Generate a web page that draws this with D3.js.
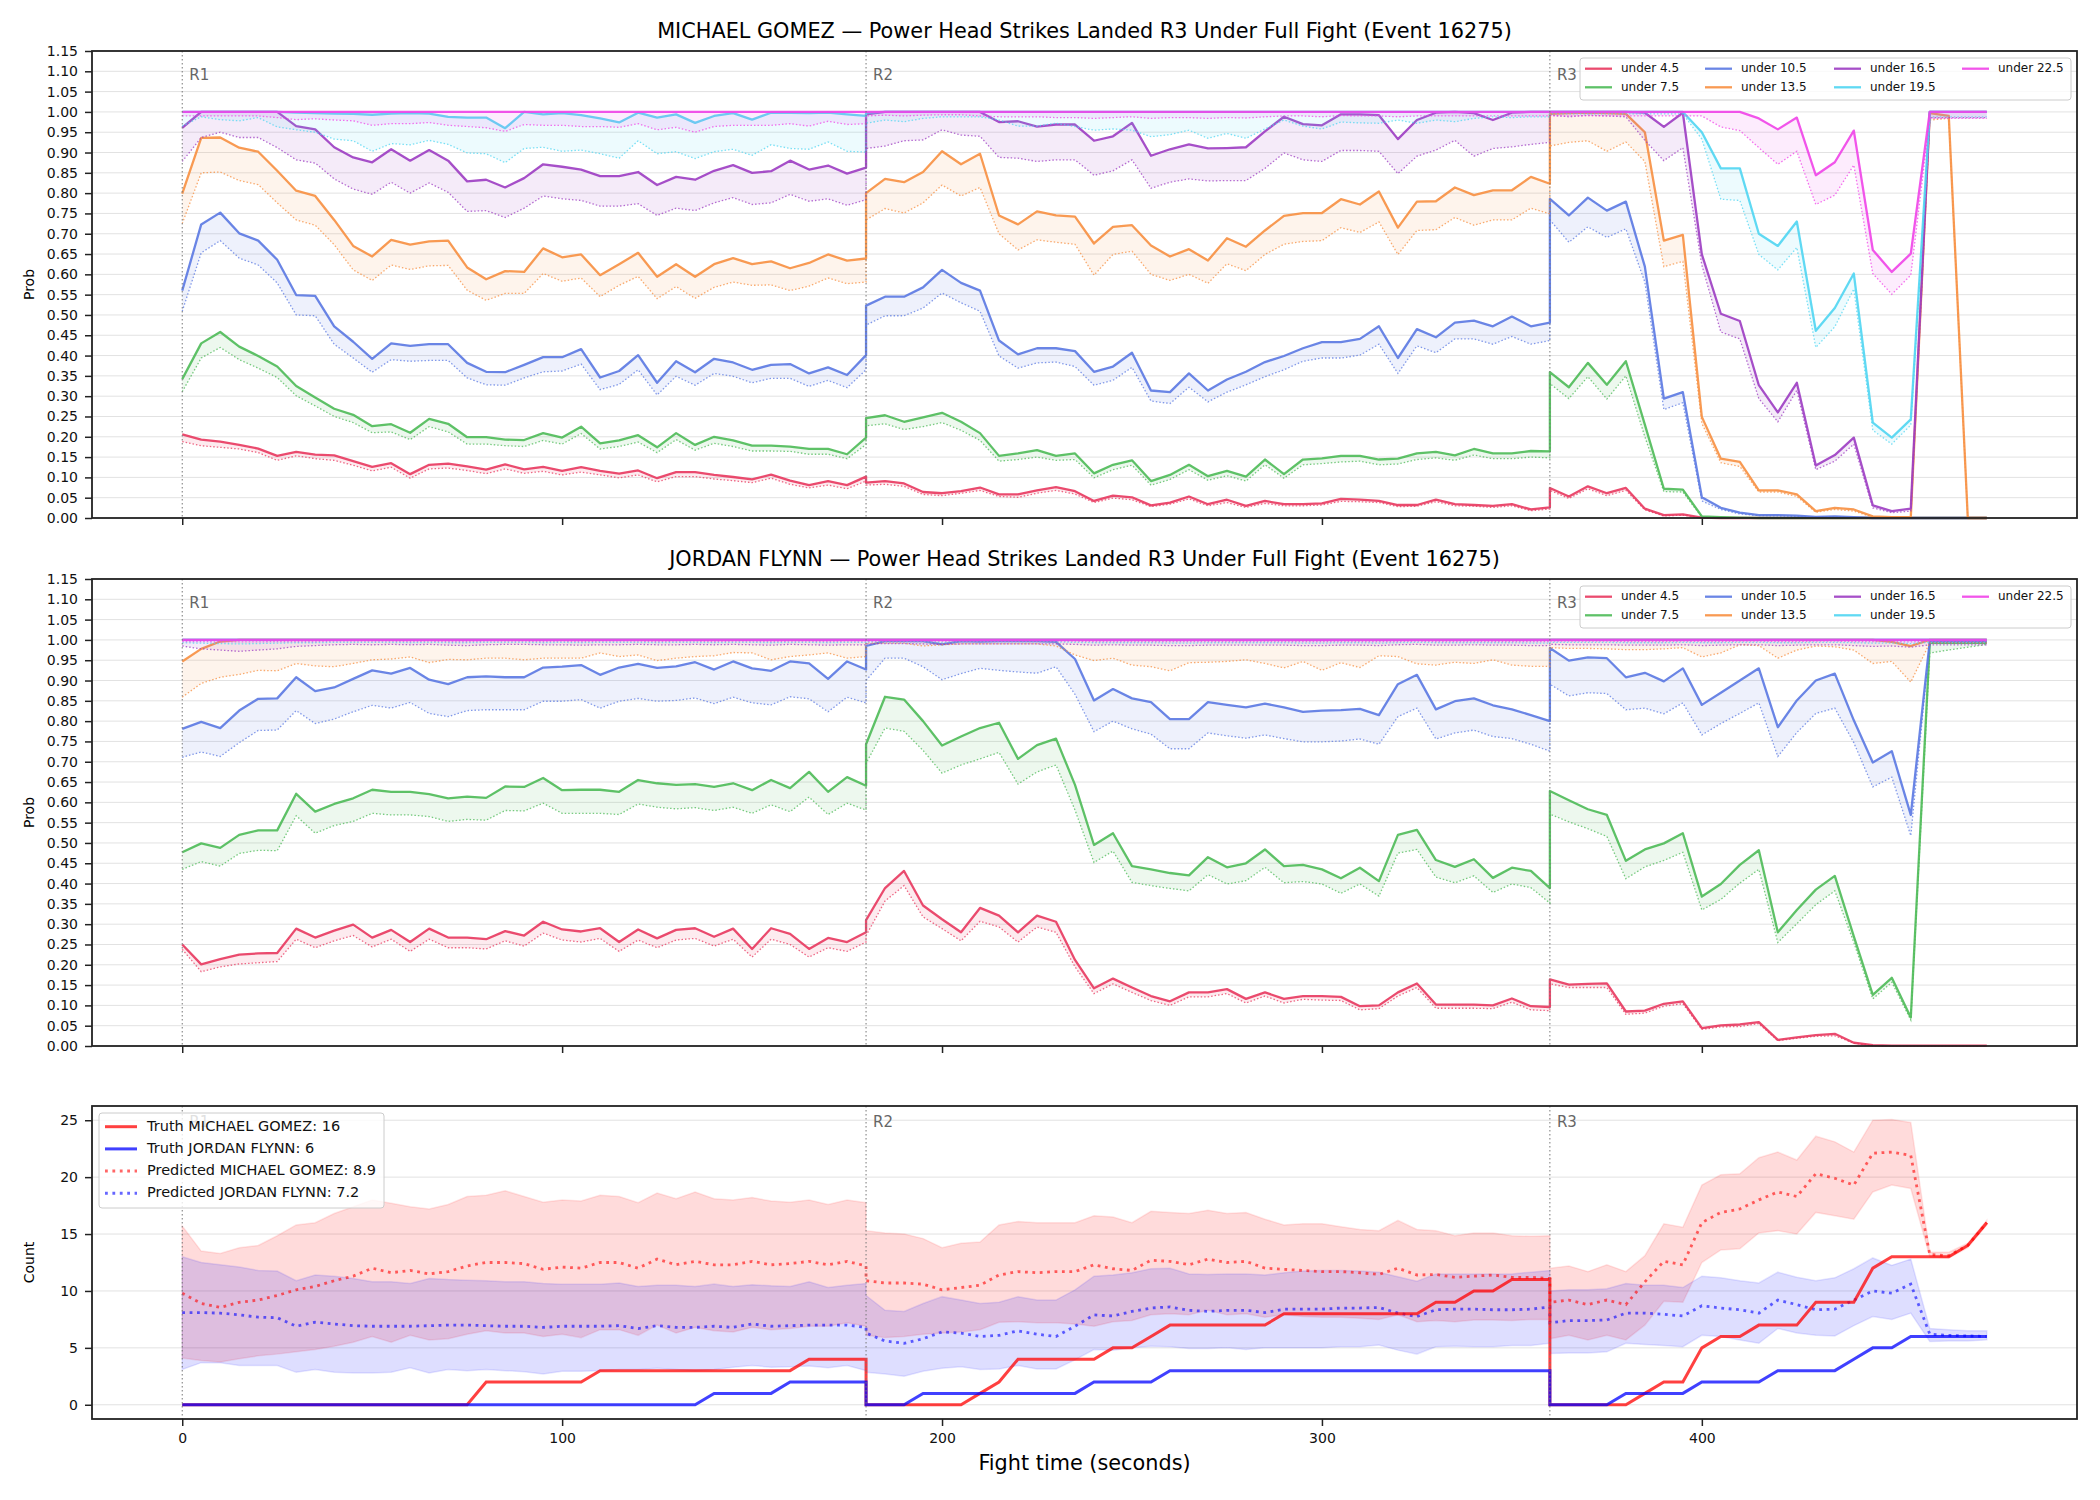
<!DOCTYPE html>
<html>
<head>
<meta charset="utf-8">
<script src="https://cdn.jsdelivr.net/npm/d3@7"></script>
<style>
  body { margin: 0; background: #fff; }
  svg { font-family: "DejaVu Sans", sans-serif; }
</style>
</head>
<body>
<svg id="chart" width="2100" height="1500"></svg>
<script>
// sampling grid: every 5 s, rounds restart at 180 and 360 (duplicated boundary)
const times = [].concat(d3.range(0, 181, 5), d3.range(180, 361, 5), d3.range(360, 476, 5));
const roundStarts = [0, 180, 360];
const roundNames = ["R1", "R2", "R3"];
const thresholds = ["under 4.5", "under 7.5", "under 10.5", "under 13.5", "under 16.5", "under 19.5", "under 22.5"];
const probTicks = d3.range(0, 24).map(i => i * 0.05);
const countTicks = [0, 5, 10, 15, 20, 25];
const timeTicks = [0, 100, 200, 300, 400];

// ---------- MICHAEL GOMEZ (solid = live, pred = dotted) ----------
const gomez45 = [0.206,0.193,0.188,0.180,0.171,0.153,0.163,0.156,0.154,0.140,0.126,0.135,0.108,0.131,0.134,0.127,0.119,0.132,0.120,0.126,0.116,0.125,0.116,0.109,0.117,0.098,0.113,0.113,0.106,0.101,0.095,0.107,0.092,0.081,0.091,0.081,0.102,
  0.087,0.091,0.085,0.064,0.061,0.066,0.075,0.058,0.058,0.068,0.076,0.066,0.042,0.055,0.051,0.031,0.038,0.053,0.034,0.045,0.030,0.042,0.034,0.034,0.036,0.047,0.045,0.042,0.032,0.032,0.045,0.034,0.032,0.030,0.034,0.021,0.026,
  0.074,0.053,0.078,0.061,0.074,0.023,0.007,0.009,0.001,0,0,0,0,0,0,0,0,0,0,0,0,0,0,0];
const gomez45Pred = [0.188,0.178,0.174,0.170,0.161,0.142,0.153,0.146,0.142,0.130,0.116,0.125,0.098,0.121,0.123,0.117,0.109,0.121,0.110,0.115,0.106,0.113,0.106,0.099,0.106,0.089,0.102,0.102,0.096,0.092,0.087,0.098,0.083,0.074,0.081,0.072,0.091,
  0.081,0.083,0.078,0.058,0.055,0.061,0.068,0.053,0.051,0.061,0.068,0.059,0.038,0.049,0.045,0.028,0.034,0.047,0.030,0.038,0.026,0.036,0.030,0.030,0.032,0.041,0.040,0.038,0.028,0.029,0.040,0.030,0.029,0.026,0.030,0.018,0.022,
  0.068,0.048,0.072,0.055,0.068,0.020,0.005,0.007,0,0,0,0,0,0,0,0,0,0,0,0,0,0,0,0];
const gomez75 = [0.342,0.430,0.458,0.422,0.399,0.373,0.325,0.297,0.269,0.254,0.226,0.231,0.210,0.244,0.232,0.199,0.199,0.193,0.192,0.209,0.198,0.225,0.184,0.191,0.204,0.174,0.209,0.180,0.200,0.191,0.178,0.178,0.176,0.170,0.170,0.157,0.198,
  0.246,0.253,0.237,0.248,0.259,0.237,0.209,0.153,0.159,0.167,0.153,0.159,0.110,0.131,0.142,0.091,0.106,0.131,0.103,0.116,0.102,0.144,0.108,0.144,0.147,0.153,0.153,0.144,0.146,0.159,0.163,0.154,0.170,0.159,0.159,0.165,0.164,
  0.359,0.322,0.382,0.328,0.386,0.230,0.072,0.070,0.004,0.002,0.001,0,0,0,0,0,0,0,0,0,0,0,0,0];
const gomez75Pred = [0.311,0.394,0.420,0.390,0.369,0.346,0.301,0.276,0.250,0.235,0.210,0.212,0.193,0.225,0.212,0.182,0.182,0.178,0.176,0.191,0.182,0.208,0.170,0.176,0.187,0.161,0.193,0.167,0.184,0.176,0.165,0.165,0.164,0.157,0.157,0.146,0.181,
  0.227,0.232,0.218,0.225,0.235,0.216,0.191,0.140,0.144,0.150,0.142,0.144,0.099,0.119,0.130,0.081,0.095,0.119,0.093,0.104,0.091,0.131,0.098,0.131,0.134,0.138,0.140,0.131,0.133,0.144,0.148,0.142,0.155,0.146,0.146,0.150,0.148,
  0.331,0.294,0.348,0.293,0.350,0.200,0.065,0.064,0.002,0.001,0,0,0,0,0,0,0,0,0,0,0,0,0,0];
const gomez105 = [0.560,0.723,0.752,0.701,0.683,0.636,0.549,0.547,0.472,0.434,0.392,0.430,0.424,0.428,0.428,0.382,0.360,0.359,0.377,0.396,0.396,0.416,0.346,0.362,0.401,0.333,0.386,0.359,0.392,0.383,0.365,0.377,0.379,0.356,0.371,0.352,0.401,
  0.523,0.545,0.545,0.568,0.611,0.579,0.560,0.437,0.403,0.418,0.418,0.411,0.360,0.373,0.407,0.314,0.310,0.356,0.314,0.341,0.360,0.384,0.399,0.418,0.433,0.433,0.441,0.472,0.394,0.465,0.445,0.481,0.486,0.472,0.496,0.472,0.481,
  0.786,0.745,0.789,0.757,0.779,0.619,0.294,0.310,0.051,0.025,0.013,0.007,0.007,0.006,0.003,0.004,0.002,0,0,0,0,0,0,0];
const gomez105Pred = [0.509,0.653,0.683,0.640,0.623,0.579,0.500,0.498,0.428,0.394,0.359,0.390,0.386,0.388,0.388,0.345,0.328,0.327,0.345,0.360,0.362,0.379,0.316,0.329,0.365,0.303,0.349,0.327,0.356,0.349,0.333,0.344,0.344,0.324,0.339,0.321,0.365,
  0.475,0.498,0.498,0.517,0.554,0.530,0.509,0.399,0.369,0.382,0.384,0.373,0.327,0.339,0.371,0.288,0.282,0.322,0.286,0.310,0.328,0.348,0.365,0.386,0.394,0.394,0.401,0.428,0.356,0.424,0.407,0.441,0.441,0.428,0.447,0.428,0.437,
  0.734,0.679,0.717,0.691,0.712,0.581,0.267,0.284,0.042,0.021,0.010,0.006,0.005,0.004,0.002,0.003,0.001,0,0,0,0,0,0,0];
const gomez135 = [0.799,0.936,0.937,0.912,0.902,0.855,0.806,0.793,0.734,0.670,0.644,0.685,0.673,0.681,0.683,0.617,0.588,0.608,0.606,0.664,0.642,0.649,0.598,0.625,0.653,0.594,0.625,0.594,0.625,0.640,0.625,0.632,0.615,0.628,0.649,0.634,0.639,
  0.800,0.835,0.827,0.852,0.903,0.871,0.897,0.745,0.723,0.755,0.745,0.742,0.676,0.717,0.721,0.671,0.644,0.662,0.634,0.689,0.668,0.708,0.744,0.751,0.751,0.785,0.772,0.804,0.715,0.779,0.780,0.814,0.795,0.807,0.807,0.840,0.823,
  0.995,0.997,0.998,0.997,0.995,0.950,0.683,0.697,0.249,0.146,0.138,0.068,0.068,0.058,0.017,0.025,0.021,0.004,0.002,0.002,0.997,0.990,0,0];
const gomez135Pred = [0.725,0.850,0.852,0.831,0.821,0.776,0.734,0.721,0.673,0.611,0.585,0.623,0.612,0.621,0.622,0.561,0.536,0.553,0.553,0.602,0.583,0.591,0.545,0.573,0.595,0.540,0.570,0.541,0.568,0.581,0.573,0.574,0.560,0.571,0.591,0.577,0.581,
  0.734,0.762,0.751,0.776,0.820,0.793,0.814,0.700,0.660,0.685,0.679,0.674,0.598,0.649,0.657,0.600,0.585,0.600,0.578,0.626,0.609,0.649,0.674,0.681,0.683,0.715,0.703,0.729,0.649,0.708,0.710,0.740,0.721,0.734,0.734,0.763,0.749,
  0.916,0.925,0.929,0.903,0.926,0.878,0.619,0.632,0.233,0.136,0.127,0.064,0.064,0.053,0.014,0.021,0.017,0.002,0.001,0.001,0.980,0.984,0,0];
const gomez165 = [0.961,1,1,1,1,1,0.965,0.957,0.913,0.888,0.876,0.908,0.880,0.906,0.880,0.829,0.833,0.814,0.837,0.871,0.865,0.858,0.842,0.842,0.852,0.820,0.840,0.833,0.855,0.869,0.850,0.854,0.880,0.858,0.868,0.848,0.863,
  0.994,1,1,1,1,1,1,0.975,0.977,0.964,0.969,0.969,0.929,0.940,0.973,0.892,0.908,0.920,0.910,0.911,0.913,0.952,0.988,0.970,0.967,0.994,0.994,0.992,0.933,0.980,0.998,1,0.997,0.980,0.998,1,1,
  1,1,1,1,1,0.998,0.963,0.998,0.649,0.503,0.485,0.327,0.260,0.333,0.129,0.155,0.198,0.031,0.017,0.023,1,1,1,1];
const gomez165Pred = [0.878,0.937,0.950,0.937,0.937,0.912,0.882,0.874,0.835,0.810,0.797,0.827,0.800,0.825,0.802,0.755,0.757,0.740,0.763,0.793,0.786,0.782,0.768,0.768,0.774,0.745,0.763,0.757,0.776,0.789,0.772,0.776,0.797,0.780,0.786,0.770,0.784,
  0.910,0.916,0.929,0.931,0.956,0.943,0.940,0.888,0.886,0.878,0.882,0.882,0.844,0.855,0.882,0.812,0.827,0.835,0.830,0.831,0.831,0.861,0.899,0.882,0.878,0.905,0.905,0.903,0.848,0.891,0.906,0.930,0.891,0.910,0.914,0.920,0.925,
  0.992,0.988,0.992,0.990,0.988,0.930,0.880,0.912,0.623,0.458,0.441,0.294,0.237,0.314,0.119,0.140,0.182,0.025,0.013,0.017,0.986,0.986,0.986,0.986];
const gomez195 = [1,1,1,1,1,1,0.998,0.997,0.996,0.995,0.993,0.996,0.997,0.996,0.988,0.986,0.986,0.960,1,0.994,0.997,0.992,0.984,0.974,0.998,0.986,0.994,0.973,0.990,0.997,0.981,0.998,0.998,0.997,0.998,0.994,0.990,
  0.998,1,1,1,1,1,1,1,1,1,1,1,1,1,1,1,1,1,1,1,1,1,1,1,1,1,1,1,1,1,1,1,1,1,1,1,1,
  1,1,1,1,1,1,1,1,0.950,0.861,0.861,0.700,0.670,0.730,0.461,0.517,0.602,0.235,0.198,0.243,1,1,1,1];
const gomez195Pred = [0.965,0.988,0.981,0.978,0.986,0.963,0.956,0.950,0.933,0.929,0.903,0.922,0.919,0.930,0.920,0.899,0.897,0.875,0.910,0.913,0.903,0.906,0.897,0.886,0.929,0.897,0.902,0.885,0.902,0.908,0.893,0.919,0.910,0.908,0.926,0.903,0.901,
  0.972,0.980,0.976,0.984,0.988,0.988,0.988,0.980,0.965,0.965,0.972,0.964,0.955,0.958,0.955,0.939,0.944,0.955,0.935,0.947,0.935,0.958,0.980,0.965,0.958,0.975,0.973,0.972,0.980,0.972,0.980,0.976,0.984,0.988,0.986,0.988,0.988,
  0.995,0.995,0.995,0.995,0.995,0.995,0.995,0.995,0.933,0.785,0.782,0.649,0.611,0.666,0.420,0.471,0.564,0.216,0.182,0.229,0.988,0.988,0.988,0.988];
const gomez225 = [1,1,1,1,1,1,1,1,1,1,1,1,1,1,1,1,1,1,1,1,1,1,1,1,1,1,1,1,1,1,1,1,1,1,1,1,1,
  1,1,1,1,1,1,1,1,1,1,1,1,1,1,1,1,1,1,1,1,1,1,1,1,1,1,1,1,1,1,1,1,1,1,1,1,1,
  1,1,1,1,1,1,1,1,1,1,1,0.984,0.957,0.986,0.844,0.876,0.954,0.660,0.606,0.651,1,1,1,1];
const gomez225Pred = [0.990,0.990,0.990,0.990,0.990,0.986,0.981,0.983,0.980,0.978,0.967,0.971,0.971,0.974,0.967,0.964,0.961,0.952,0.969,0.967,0.967,0.964,0.964,0.962,0.971,0.956,0.962,0.950,0.964,0.967,0.967,0.967,0.971,0.965,0.977,0.969,0.971,
  0.990,0.992,0.990,0.992,0.993,0.993,0.990,0.988,0.988,0.988,0.986,0.986,0.984,0.986,0.988,0.984,0.986,0.986,0.984,0.986,0.985,0.988,0.990,0.990,0.988,0.991,0.990,0.990,0.988,0.990,0.990,0.990,0.990,0.990,0.990,0.990,0.990,
  0.990,0.990,0.990,0.990,0.990,0.990,0.990,0.990,0.990,0.963,0.954,0.912,0.871,0.903,0.772,0.795,0.869,0.602,0.551,0.598,0.984,0.984,0.984,0.984];

// ---------- JORDAN FLYNN ----------
const flynn45 = [0.250,0.201,0.214,0.225,0.228,0.229,0.289,0.267,0.284,0.299,0.267,0.286,0.256,0.289,0.267,0.267,0.263,0.283,0.272,0.306,0.287,0.282,0.290,0.256,0.287,0.265,0.286,0.290,0.269,0.289,0.239,0.290,0.276,0.239,0.266,0.256,0.280,
  0.310,0.389,0.431,0.346,0.312,0.280,0.340,0.321,0.280,0.321,0.306,0.212,0.142,0.166,0.144,0.123,0.110,0.132,0.132,0.140,0.116,0.132,0.116,0.123,0.123,0.121,0.098,0.100,0.132,0.154,0.102,0.102,0.102,0.100,0.117,0.098,0.096,
  0.164,0.151,0.153,0.154,0.085,0.087,0.104,0.110,0.044,0.051,0.053,0.059,0.015,0.021,0.027,0.030,0.008,0.002,0.001,0.001,0.001,0.001,0.001,0.001];
const flynn45Pred = [0.238,0.183,0.195,0.202,0.205,0.208,0.263,0.242,0.259,0.272,0.244,0.263,0.233,0.263,0.242,0.242,0.239,0.259,0.246,0.278,0.261,0.256,0.265,0.233,0.261,0.242,0.261,0.265,0.246,0.263,0.219,0.263,0.250,0.219,0.242,0.233,0.256,
  0.272,0.357,0.395,0.318,0.289,0.259,0.307,0.293,0.256,0.293,0.280,0.195,0.129,0.153,0.132,0.112,0.100,0.121,0.121,0.129,0.106,0.123,0.106,0.115,0.113,0.112,0.089,0.092,0.123,0.144,0.093,0.093,0.093,0.092,0.108,0.089,0.087,
  0.153,0.144,0.144,0.144,0.078,0.081,0.098,0.104,0.041,0.047,0.048,0.055,0.013,0.019,0.024,0.025,0.007,0.001,0,0,0,0,0,0];
const flynn75 = [0.477,0.499,0.488,0.520,0.531,0.531,0.621,0.577,0.596,0.610,0.631,0.626,0.626,0.620,0.610,0.614,0.611,0.639,0.638,0.660,0.630,0.631,0.631,0.626,0.655,0.647,0.643,0.645,0.638,0.647,0.630,0.655,0.635,0.675,0.626,0.662,0.641,
  0.743,0.860,0.853,0.800,0.740,0.762,0.783,0.796,0.707,0.741,0.757,0.643,0.495,0.524,0.443,0.435,0.426,0.420,0.465,0.440,0.450,0.484,0.443,0.446,0.435,0.413,0.439,0.406,0.520,0.532,0.458,0.441,0.460,0.414,0.439,0.431,0.389,
  0.628,0.605,0.583,0.569,0.456,0.484,0.499,0.524,0.368,0.399,0.446,0.482,0.280,0.335,0.385,0.419,0.270,0.126,0.168,0.070,0.993,0.993,0.993,0.993];
const flynn75Pred = [0.435,0.454,0.443,0.474,0.482,0.481,0.567,0.524,0.543,0.553,0.573,0.569,0.569,0.565,0.553,0.558,0.556,0.580,0.579,0.598,0.573,0.573,0.573,0.570,0.596,0.588,0.584,0.587,0.580,0.588,0.573,0.594,0.577,0.613,0.570,0.598,0.581,
  0.696,0.783,0.775,0.728,0.672,0.692,0.707,0.723,0.645,0.675,0.692,0.581,0.452,0.480,0.403,0.395,0.388,0.382,0.422,0.399,0.407,0.440,0.402,0.405,0.399,0.376,0.399,0.369,0.475,0.484,0.416,0.402,0.419,0.378,0.399,0.390,0.352,
  0.571,0.552,0.535,0.516,0.412,0.441,0.457,0.477,0.335,0.361,0.401,0.435,0.255,0.301,0.348,0.382,0.255,0.116,0.157,0.064,0.968,0.975,0.982,0.989];
const flynn105 = [0.781,0.798,0.783,0.826,0.855,0.856,0.908,0.874,0.883,0.904,0.925,0.917,0.931,0.902,0.891,0.908,0.910,0.908,0.908,0.932,0.934,0.938,0.914,0.932,0.941,0.931,0.935,0.945,0.927,0.947,0.930,0.924,0.947,0.942,0.904,0.947,0.927,
  0.985,0.997,0.997,0.997,0.989,0.997,0.996,0.997,0.997,0.997,0.995,0.953,0.851,0.879,0.856,0.847,0.805,0.805,0.847,0.840,0.834,0.843,0.834,0.823,0.826,0.827,0.830,0.815,0.891,0.914,0.829,0.849,0.856,0.839,0.829,0.815,0.800,
  0.980,0.949,0.957,0.955,0.908,0.919,0.898,0.930,0.840,0.870,0.900,0.930,0.785,0.851,0.900,0.917,0.802,0.698,0.726,0.569,0.997,0.997,0.997,0.997];
const flynn105Pred = [0.711,0.724,0.713,0.747,0.777,0.778,0.826,0.794,0.805,0.823,0.839,0.832,0.846,0.819,0.811,0.826,0.828,0.828,0.828,0.849,0.849,0.853,0.832,0.849,0.856,0.849,0.851,0.857,0.843,0.859,0.845,0.840,0.860,0.855,0.823,0.859,0.845,
  0.900,0.955,0.955,0.934,0.902,0.917,0.930,0.925,0.921,0.918,0.934,0.866,0.774,0.800,0.781,0.768,0.732,0.732,0.771,0.764,0.758,0.766,0.757,0.749,0.749,0.751,0.756,0.743,0.811,0.832,0.756,0.771,0.778,0.762,0.757,0.743,0.726,
  0.891,0.862,0.870,0.868,0.828,0.832,0.818,0.845,0.766,0.794,0.819,0.845,0.713,0.772,0.819,0.832,0.747,0.638,0.662,0.518,0.993,0.993,0.993,0.993];
const flynn135 = [0.947,0.978,0.996,1,1,1,1,1,1,1,1,1,1,1,1,1,1,1,1,1,1,1,1,1,1,1,1,1,1,1,1,1,1,1,1,1,1,
  1,1,1,1,1,1,1,1,1,1,1,1,1,1,1,1,1,1,1,1,1,1,1,1,1,1,1,1,1,1,1,1,1,1,1,1,1,
  1,1,1,1,1,1,1,1,1,1,1,1,1,1,1,1,1,1,0.995,0.985,1,1,1,1];
const flynn135Pred = [0.859,0.893,0.908,0.915,0.925,0.924,0.942,0.936,0.934,0.942,0.951,0.953,0.958,0.944,0.952,0.951,0.955,0.955,0.951,0.955,0.955,0.955,0.968,0.959,0.963,0.949,0.955,0.959,0.961,0.969,0.968,0.951,0.959,0.963,0.968,0.955,0.959,
  0.992,0.992,0.992,0.985,0.988,0.990,0.990,0.990,0.990,0.990,0.985,0.963,0.949,0.955,0.938,0.934,0.924,0.944,0.945,0.947,0.951,0.942,0.931,0.947,0.925,0.944,0.932,0.961,0.959,0.941,0.938,0.945,0.942,0.951,0.938,0.935,0.935,
  0.981,0.979,0.979,0.978,0.976,0.976,0.978,0.981,0.958,0.968,0.988,0.986,0.955,0.975,0.985,0.983,0.975,0.942,0.947,0.896,0.993,0.993,0.993,0.993];
const flynn165 = [1,1,1,1,1,1,1,1,1,1,1,1,1,1,1,1,1,1,1,1,1,1,1,1,1,1,1,1,1,1,1,1,1,1,1,1,1,
  1,1,1,1,1,1,1,1,1,1,1,1,1,1,1,1,1,1,1,1,1,1,1,1,1,1,1,1,1,1,1,1,1,1,1,1,1,
  1,1,1,1,1,1,1,1,1,1,1,1,1,1,1,1,1,1,1,1,1,1,1,1];
const flynn165Pred = [0.985,0.978,0.975,0.972,0.975,0.978,0.984,0.986,0.988,0.989,0.988,0.989,0.988,0.989,0.987,0.986,0.988,0.989,0.989,0.988,0.988,0.987,0.988,0.988,0.989,0.988,0.988,0.989,0.988,0.989,0.988,0.987,0.989,0.988,0.987,0.988,0.988,
  0.990,0.991,0.991,0.990,0.989,0.990,0.990,0.990,0.990,0.990,0.990,0.989,0.987,0.988,0.987,0.987,0.986,0.986,0.987,0.987,0.987,0.987,0.987,0.986,0.986,0.987,0.987,0.986,0.988,0.989,0.987,0.987,0.988,0.987,0.987,0.986,0.986,
  0.989,0.988,0.988,0.988,0.987,0.987,0.987,0.988,0.986,0.987,0.988,0.988,0.986,0.987,0.988,0.988,0.986,0.984,0.985,0.982,0.988,0.988,0.988,0.988];
const flynn195 = flynn165.slice();
const flynn195Pred = [0.993,0.992,0.991,0.990,0.991,0.992,0.993,0.993,0.994,0.994,0.994,0.994,0.993,0.994,0.993,0.993,0.994,0.994,0.994,0.993,0.994,0.993,0.994,0.994,0.994,0.993,0.994,0.994,0.993,0.994,0.994,0.993,0.994,0.994,0.993,0.994,0.994,
  0.995,0.995,0.995,0.995,0.994,0.995,0.995,0.995,0.995,0.995,0.995,0.994,0.993,0.993,0.993,0.993,0.992,0.992,0.993,0.993,0.993,0.993,0.993,0.992,0.992,0.993,0.993,0.992,0.993,0.994,0.993,0.993,0.993,0.993,0.993,0.992,0.992,
  0.994,0.994,0.994,0.994,0.993,0.993,0.993,0.994,0.993,0.993,0.994,0.994,0.993,0.993,0.994,0.994,0.993,0.992,0.992,0.991,0.994,0.994,0.994,0.994];
const flynn225 = flynn165.slice();
const flynn225Pred = [0.996,0.996,0.995,0.995,0.995,0.996,0.996,0.996,0.997,0.997,0.997,0.997,0.996,0.997,0.996,0.996,0.997,0.997,0.997,0.996,0.997,0.996,0.997,0.997,0.997,0.996,0.997,0.997,0.996,0.997,0.997,0.996,0.997,0.997,0.996,0.997,0.997,
  0.997,0.997,0.997,0.997,0.997,0.997,0.997,0.997,0.997,0.997,0.997,0.997,0.996,0.996,0.996,0.996,0.996,0.996,0.996,0.996,0.996,0.996,0.996,0.996,0.996,0.996,0.996,0.996,0.996,0.997,0.996,0.996,0.996,0.996,0.996,0.996,0.996,
  0.997,0.997,0.997,0.997,0.996,0.996,0.996,0.997,0.996,0.996,0.997,0.997,0.996,0.996,0.997,0.997,0.996,0.996,0.996,0.995,0.997,0.997,0.997,0.997];

// ---------- counts ----------
const truthGomez = [0,0,0,0,0,0,0,0,0,0,0,0,0,0,0,0,2,2,2,2,2,2,3,3,3,3,3,3,3,3,3,3,3,4,4,4,4,
  0,0,0,0,0,0,1,2,4,4,4,4,4,5,5,6,7,7,7,7,7,7,8,8,8,8,8,8,8,8,9,9,10,10,11,11,11,
  0,0,0,0,0,1,2,2,5,6,6,7,7,7,9,9,9,12,13,13,13,13,14,16];
const truthFlynn = [0,0,0,0,0,0,0,0,0,0,0,0,0,0,0,0,0,0,0,0,0,0,0,0,0,0,0,0,1,1,1,1,2,2,2,2,2,
  0,0,0,1,1,1,1,1,1,1,1,1,2,2,2,2,3,3,3,3,3,3,3,3,3,3,3,3,3,3,3,3,3,3,3,3,3,
  0,0,0,0,1,1,1,1,2,2,2,2,3,3,3,3,4,5,5,6,6,6,6,6];
const predGomez = [9.8,8.9,8.55,9.0,9.2,9.6,10.1,10.4,10.9,11.3,12.0,11.6,11.8,11.5,11.7,12.2,12.5,12.5,12.4,11.9,12.1,12.0,12.5,12.5,12.0,12.8,12.3,12.6,12.3,12.3,12.6,12.3,12.4,12.6,12.3,12.6,12.2,
  10.9,10.7,10.7,10.6,10.1,10.3,10.5,11.4,11.7,11.6,11.7,11.7,12.3,11.95,11.8,12.7,12.6,12.3,12.8,12.5,12.6,12.0,11.9,11.8,11.7,11.7,11.6,11.45,12.0,11.4,11.45,11.2,11.3,11.4,11.2,11.2,11.1,
  9.0,9.2,8.8,9.2,8.8,10.8,12.6,12.3,16.0,16.9,17.2,18.0,18.7,18.3,20.3,19.9,19.3,22.1,22.2,21.9,13.2,13.1,14.0,16.0];
const predGomezHi = [15.7,13.5,13.3,13.8,14.0,14.85,15.8,16.0,16.8,17.4,18.0,17.7,17.4,17.2,17.6,18.3,18.4,18.8,18.3,17.8,18.0,17.9,18.4,18.3,17.75,18.6,18.1,18.7,18.1,18.0,18.2,17.9,17.8,18.0,17.6,18.0,17.75,
  15.3,15.1,15.0,14.6,13.8,14.2,14.3,15.8,16.1,16.0,16.0,16.0,16.6,16.5,16.0,17.0,16.9,16.8,17.1,16.8,16.9,16.3,15.8,15.9,15.9,15.65,15.4,15.3,16.2,15.4,15.3,14.85,15.1,15.1,14.85,14.8,14.85,
  12.0,12.2,11.7,12.3,11.7,13.1,15.9,15.6,19.3,20.2,20.3,21.7,22.2,21.5,23.6,23.1,22.2,25.0,25.06,24.8,13.4,13.4,14.2,16.2];
const predGomezLo = [4.1,3.9,3.75,4.05,4.3,4.45,4.65,4.85,5.15,5.5,6.0,5.5,6.1,5.7,5.8,6.2,6.5,6.3,6.3,6.0,6.2,5.9,6.6,6.6,6.1,7.0,6.3,6.8,6.5,6.4,6.8,6.6,6.7,6.9,6.9,7.2,6.9,
  6.1,5.9,6.0,6.2,6.3,6.4,6.6,7.25,7.3,7.2,7.2,7.1,6.9,7.3,7.4,7.9,8.0,7.9,8.3,7.9,8.0,7.7,7.9,7.75,7.7,7.7,7.6,7.5,7.9,7.3,7.4,7.3,7.45,7.45,7.4,7.5,7.5,
  5.8,6.1,5.7,6.1,5.7,7.0,9.1,9.0,12.5,13.6,13.7,15.1,15.3,15.0,16.9,16.6,16.3,18.7,19.3,19.0,13.0,12.9,13.8,15.8];
const predFlynn = [8.1,8.1,8.05,7.9,7.7,7.65,6.9,7.25,7.1,6.95,6.9,6.9,6.9,6.95,7.0,7.0,6.95,6.9,6.9,6.8,6.9,6.9,6.9,6.95,6.7,6.95,6.8,6.8,6.9,6.8,7.1,6.9,6.95,7.0,7.0,7.0,6.8,
  6.3,5.6,5.4,5.8,6.4,6.3,6.0,6.1,6.5,6.2,6.0,6.9,7.9,7.8,8.2,8.5,8.6,8.3,8.2,8.3,8.3,8.1,8.4,8.4,8.4,8.5,8.5,8.55,8.05,7.75,8.35,8.4,8.4,8.35,8.35,8.4,8.6,
  7.2,7.4,7.4,7.45,8.05,8.05,7.95,7.8,8.7,8.5,8.35,8.05,9.2,8.8,8.35,8.4,9.2,10.0,9.8,10.6,6.2,6.1,6.05,6.0];
const predFlynnHi = [13.0,12.5,12.3,12.1,11.8,11.75,10.9,11.4,11.3,11.1,10.8,10.8,10.65,11.1,11.0,10.95,10.9,10.8,10.8,10.65,10.6,10.6,10.6,10.7,10.4,10.5,10.5,10.4,10.6,10.4,10.55,10.45,10.4,10.8,10.3,10.5,10.65,
  9.6,8.3,8.2,8.9,9.5,9.2,8.9,9.0,9.5,9.2,9.2,10.1,11.3,11.4,11.6,11.95,12.0,11.5,11.45,11.5,11.5,11.4,11.6,11.75,11.8,11.8,11.75,11.65,11.25,10.85,11.5,11.5,11.5,11.5,11.5,11.65,11.8,
  10.0,10.1,10.1,10.2,10.65,10.5,10.5,10.3,11.3,11.15,10.9,10.7,11.65,11.2,10.9,11.15,11.95,12.9,12.25,12.8,6.7,6.6,6.5,6.5];
const predFlynnLo = [3.1,3.7,3.7,3.45,3.45,3.45,2.85,3.1,2.85,2.8,2.8,2.85,3.25,2.8,3.1,3.0,3.1,3.0,2.9,2.7,2.95,2.95,3.0,3.1,3.1,3.2,3.1,3.0,3.1,3.3,3.45,3.3,3.35,3.4,3.25,3.45,3.0,
  2.85,2.7,2.5,2.95,3.2,3.35,3.1,3.15,3.45,3.15,3.15,3.95,4.85,4.8,5.0,5.15,5.1,4.95,4.95,5.0,4.85,5.0,5.0,5.0,5.0,5.1,5.1,5.25,4.8,4.45,5.1,5.15,5.1,5.1,5.2,5.2,5.4,
  4.5,4.55,4.55,4.65,5.4,5.3,5.2,5.1,6.1,6.0,5.7,5.4,6.7,6.3,6.1,6.05,6.95,7.75,7.5,8.05,5.55,5.6,5.6,5.7];

const lineColors = ["#e8375e", "#4cba57", "#5a78e2", "#f78f40", "#9c3cc2", "#4fd5f2", "#f043e8"];

// ---------- layout ----------
const left = 92, right = 2077;
const svg = d3.select("#chart");
const x = d3.scaleLinear().domain([-23.75, 498.75]).range([left, right]);

function frame(top, bottom, y, yTicks, yFmt, showX) {
  const g = svg.append("g");
  // horizontal grid
  g.selectAll(".grid").data(yTicks).enter().append("line")
    .attr("x1", left).attr("x2", right)
    .attr("y1", d => y(d)).attr("y2", d => y(d))
    .attr("stroke", "#e2e2e2").attr("stroke-width", 1);
  // y axis
  const ya = g.append("g").attr("transform", "translate(" + left + ",0)")
    .call(d3.axisLeft(y).tickValues(yTicks).tickFormat(yFmt).tickSize(7).tickPadding(7));
  // x axis
  const xa = g.append("g").attr("transform", "translate(0," + bottom + ")")
    .call(d3.axisBottom(x).tickValues(timeTicks).tickFormat(showX ? d3.format("d") : "").tickSize(7).tickPadding(7));
  [ya, xa].forEach(a => {
    a.select(".domain").remove();
    a.selectAll("line").attr("stroke", "#222").attr("stroke-width", 1.5);
    a.selectAll("text").attr("font-size", 14).attr("fill", "#111").attr("font-family", "DejaVu Sans");
  });
  return g;
}

function roundMarks(top, bottom) {
  const h = bottom - top;
  roundStarts.forEach((t, i) => {
    svg.append("line")
      .attr("x1", x(t)).attr("x2", x(t)).attr("y1", top).attr("y2", bottom)
      .attr("stroke", "#777").attr("stroke-width", 1).attr("stroke-dasharray", "1.5,2.5");
    svg.append("text")
      .attr("x", x(t) + 7).attr("y", top + 0.05 * h + 1)
      .attr("dominant-baseline", "middle")
      .attr("font-size", 15).attr("fill", "#666")
      .text(roundNames[i]);
  });
}

function spines(top, bottom) {
  svg.append("rect").attr("x", left).attr("y", top)
    .attr("width", right - left).attr("height", bottom - top)
    .attr("fill", "none").attr("stroke", "#222").attr("stroke-width", 1.8);
}

function probPanel(top, bottom, title, solids, preds) {
  const y = d3.scaleLinear().domain([0, 1.15]).range([bottom, top]);
  frame(top, bottom, y, probTicks, d3.format(".2f"), false);

  const line = d3.line().x((d, i) => x(times[i])).y(d => y(d));
  solids.forEach((s, k) => {
    const p = preds[k];
    const area = d3.area().x((d, i) => x(times[i])).y0((d, i) => y(p[i])).y1(d => y(d));
    svg.append("path").datum(s).attr("d", area)
      .attr("fill", lineColors[k]).attr("fill-opacity", 0.1);
    svg.append("path").datum(p).attr("d", line)
      .attr("fill", "none").attr("stroke", lineColors[k]).attr("stroke-opacity", 0.75)
      .attr("stroke-width", 1.3).attr("stroke-dasharray", "1.5,2");
    svg.append("path").datum(s).attr("d", line)
      .attr("fill", "none").attr("stroke", lineColors[k]).attr("stroke-opacity", 0.9)
      .attr("stroke-width", 2.3).attr("stroke-linejoin", "round");
  });
  roundMarks(top, bottom);
  spines(top, bottom);

  svg.append("text").attr("x", (left + right) / 2).attr("y", top - 19)
    .attr("text-anchor", "middle").attr("dominant-baseline", "middle")
    .attr("font-size", 20.8).attr("fill", "#000").text(title);
  svg.append("text")
    .attr("transform", "translate(30," + ((top + bottom) / 2) + ") rotate(-90)")
    .attr("text-anchor", "middle").attr("dominant-baseline", "middle")
    .attr("font-size", 14).text("Prob");

  // legend (4 columns, filled column-wise)
  const lg = svg.append("g");
  lg.append("rect").attr("x", 1580).attr("y", top + 7).attr("width", 491).attr("height", 42)
    .attr("rx", 3).attr("fill", "#fff").attr("fill-opacity", 0.8)
    .attr("stroke", "#ccc").attr("stroke-width", 1);
  const colX = [1585, 1705, 1834, 1962];
  thresholds.forEach((name, k) => {
    const cx = colX[Math.floor(k / 2)];
    const cy = top + (k % 2 === 0 ? 17.7 : 36.3);
    lg.append("line").attr("x1", cx).attr("x2", cx + 27).attr("y1", cy).attr("y2", cy)
      .attr("stroke", lineColors[k]).attr("stroke-opacity", 0.9).attr("stroke-width", 2.3);
    lg.append("text").attr("x", cx + 36).attr("y", cy).attr("dominant-baseline", "middle")
      .attr("font-size", 12).attr("fill", "#111").text(name);
  });
}

probPanel(51, 518, "MICHAEL GOMEZ \u2014 Power Head Strikes Landed R3 Under Full Fight (Event 16275)",
  [gomez45, gomez75, gomez105, gomez135, gomez165, gomez195, gomez225],
  [gomez45Pred, gomez75Pred, gomez105Pred, gomez135Pred, gomez165Pred, gomez195Pred, gomez225Pred]);
probPanel(579, 1046, "JORDAN FLYNN \u2014 Power Head Strikes Landed R3 Under Full Fight (Event 16275)",
  [flynn45, flynn75, flynn105, flynn135, flynn165, flynn195, flynn225],
  [flynn45Pred, flynn75Pred, flynn105Pred, flynn135Pred, flynn165Pred, flynn195Pred, flynn225Pred]);

// ---------- count panel ----------
(function () {
  const top = 1106, bottom = 1419;
  const y = d3.scaleLinear().domain([-1.25, 26.25]).range([bottom, top]);
  frame(top, bottom, y, countTicks, d3.format("d"), true);

  const band = (lo, hi) => d3.area().x((d, i) => x(times[i])).y0((d, i) => y(lo[i])).y1((d, i) => y(hi[i]));
  const line = d3.line().x((d, i) => x(times[i])).y(d => y(d));

  svg.append("path").datum(predGomez).attr("d", band(predGomezLo, predGomezHi))
    .attr("fill", "#ff0000").attr("fill-opacity", 0.14)
    .attr("stroke", "#ff0000").attr("stroke-opacity", 0.1).attr("stroke-width", 1.5);
  svg.append("path").datum(predFlynn).attr("d", band(predFlynnLo, predFlynnHi))
    .attr("fill", "#0000ff").attr("fill-opacity", 0.13)
    .attr("stroke", "#0000ff").attr("stroke-opacity", 0.1).attr("stroke-width", 1.5);

  svg.append("path").datum(predGomez).attr("d", line)
    .attr("fill", "none").attr("stroke", "#ff0000").attr("stroke-opacity", 0.6)
    .attr("stroke-width", 2.8).attr("stroke-dasharray", "2.8,4.6");
  svg.append("path").datum(predFlynn).attr("d", line)
    .attr("fill", "none").attr("stroke", "#0000ff").attr("stroke-opacity", 0.6)
    .attr("stroke-width", 2.8).attr("stroke-dasharray", "2.8,4.6");

  svg.append("path").datum(truthGomez).attr("d", line)
    .attr("fill", "none").attr("stroke", "#ff0000").attr("stroke-opacity", 0.75).attr("stroke-width", 3);
  svg.append("path").datum(truthFlynn).attr("d", line)
    .attr("fill", "none").attr("stroke", "#0000ff").attr("stroke-opacity", 0.75).attr("stroke-width", 3);

  roundMarks(top, bottom);
  spines(top, bottom);

  svg.append("text")
    .attr("transform", "translate(30," + ((top + bottom) / 2) + ") rotate(-90)")
    .attr("text-anchor", "middle").attr("dominant-baseline", "middle")
    .attr("font-size", 14).text("Count");
  svg.append("text").attr("x", (left + right) / 2).attr("y", 1464)
    .attr("text-anchor", "middle").attr("dominant-baseline", "middle")
    .attr("font-size", 20.8).text("Fight time (seconds)");

  // legend (drawn over the R1 label, as in the original)
  const entries = [
    {label: "Truth MICHAEL GOMEZ: 16", color: "#ff0000", dash: null},
    {label: "Truth JORDAN FLYNN: 6", color: "#0000ff", dash: null},
    {label: "Predicted MICHAEL GOMEZ: 8.9", color: "#ff0000", dash: "2.8,4.6"},
    {label: "Predicted JORDAN FLYNN: 7.2", color: "#0000ff", dash: "2.8,4.6"}
  ];
  const lg = svg.append("g");
  lg.append("rect").attr("x", 99).attr("y", 1113).attr("width", 285).attr("height", 95)
    .attr("rx", 3).attr("fill", "#fff").attr("fill-opacity", 0.8)
    .attr("stroke", "#ccc").attr("stroke-width", 1);
  entries.forEach((e, k) => {
    const cy = 1126.7 + k * 22.2;
    lg.append("line").attr("x1", 105).attr("x2", 137).attr("y1", cy).attr("y2", cy)
      .attr("stroke", e.color).attr("stroke-opacity", e.dash ? 0.6 : 0.75).attr("stroke-width", 3)
      .attr("stroke-dasharray", e.dash);
    lg.append("text").attr("x", 147).attr("y", cy).attr("dominant-baseline", "middle")
      .attr("font-size", 14.5).attr("fill", "#111").text(e.label);
  });
})();
</script>
</body>
</html>
